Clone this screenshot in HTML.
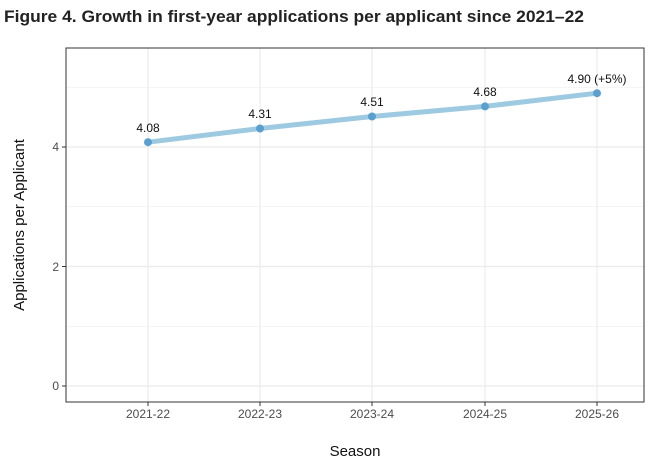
<!DOCTYPE html>
<html><head><style>body{margin:0;background:#fff}</style></head><body>
<svg width="650" height="458" xmlns="http://www.w3.org/2000/svg" font-family="Liberation Sans, sans-serif">
<text x="4" y="22" font-size="17" font-weight="bold" fill="#222" textLength="580" lengthAdjust="spacingAndGlyphs">Figure 4. Growth in first-year applications per applicant since 2021–22</text>
<g stroke="#ebebeb" stroke-width="0.6">
<line x1="66" x2="644" y1="326.25" y2="326.25"/><line x1="66" x2="644" y1="206.75" y2="206.75"/><line x1="66" x2="644" y1="87.25" y2="87.25"/>
</g>
<g stroke="#ebebeb" stroke-width="1.2">
<line x1="66" x2="644" y1="386" y2="386"/><line x1="66" x2="644" y1="266.5" y2="266.5"/><line x1="66" x2="644" y1="147" y2="147"/>
<line x1="148" x2="148" y1="48" y2="402"/><line x1="260" x2="260" y1="48" y2="402"/><line x1="372" x2="372" y1="48" y2="402"/><line x1="485" x2="485" y1="48" y2="402"/><line x1="597" x2="597" y1="48" y2="402"/>
</g>
<rect x="66" y="48" width="578" height="354" fill="none" stroke="#333" stroke-width="1"/>
<polyline points="148,142.2 260,128.5 372,116.5 485,106.4 597,93.2" fill="none" stroke="#9ecae1" stroke-width="5" stroke-linecap="round"/>
<g fill="#5b9fcf"><circle cx="148" cy="142.2" r="4"/><circle cx="260" cy="128.5" r="4"/><circle cx="372" cy="116.5" r="4"/><circle cx="485" cy="106.4" r="4"/><circle cx="597" cy="93.2" r="4"/></g>
<g font-size="12" fill="#111" text-anchor="middle">
<text x="148" y="132">4.08</text><text x="260" y="118">4.31</text><text x="372" y="106">4.51</text><text x="485" y="96">4.68</text><text x="597" y="83">4.90 (+5%)</text>
</g>
<g stroke="#333"><line x1="62" x2="66" y1="386" y2="386"/><line x1="62" x2="66" y1="266.5" y2="266.5"/><line x1="62" x2="66" y1="147" y2="147"/>
<line x1="148" x2="148" y1="402" y2="406"/><line x1="260" x2="260" y1="402" y2="406"/><line x1="372" x2="372" y1="402" y2="406"/><line x1="485" x2="485" y1="402" y2="406"/><line x1="597" x2="597" y1="402" y2="406"/></g>
<g font-size="12" fill="#4d4d4d" text-anchor="end"><text x="59" y="390">0</text><text x="59" y="271">2</text><text x="59" y="151">4</text></g>
<g font-size="12" fill="#4d4d4d" text-anchor="middle"><text x="148" y="418">2021-22</text><text x="260" y="418">2022-23</text><text x="372" y="418">2023-24</text><text x="485" y="418">2024-25</text><text x="597" y="418">2025-26</text></g>
<text x="355" y="456" font-size="15" fill="#111" text-anchor="middle">Season</text>
<text transform="translate(24,225) rotate(-90)" font-size="15" fill="#111" text-anchor="middle">Applications per Applicant</text>
</svg>
</body></html>
